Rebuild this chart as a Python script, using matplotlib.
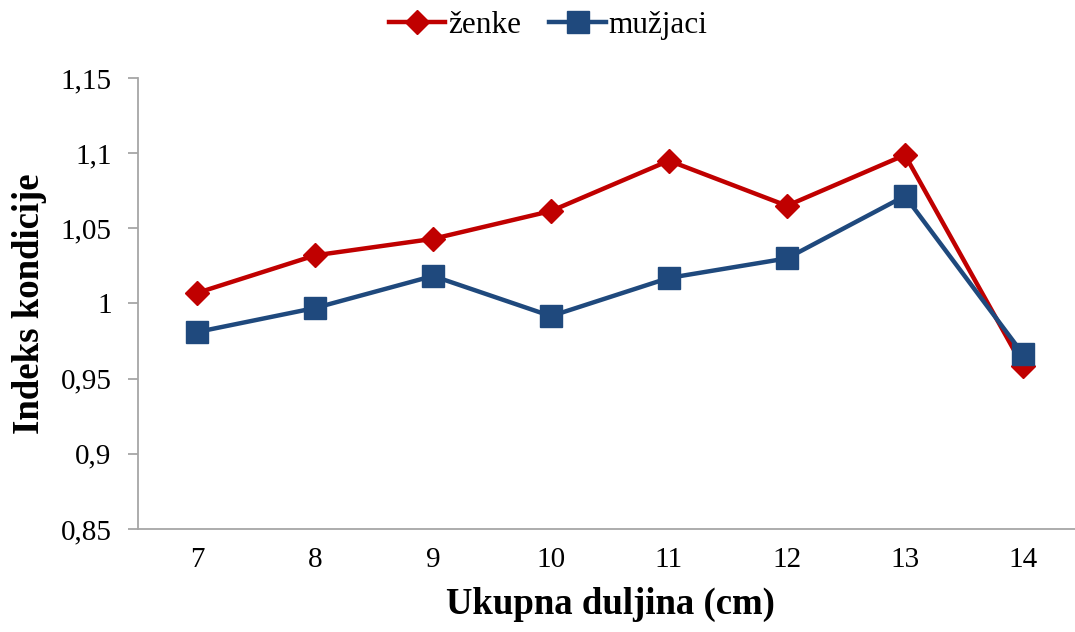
import matplotlib
matplotlib.use("Agg")
import matplotlib.pyplot as plt
from matplotlib.ticker import FixedLocator

categories = ["7", "8", "9", "10", "11", "12", "13", "14"]
zenke = [1.007, 1.032, 1.043, 1.0615, 1.095, 1.065, 1.0988, 0.9584]
muzjaci = [0.981, 0.997, 1.0183, 0.9916, 1.017, 1.030, 1.0715, 0.9664]
yticks = [0.85, 0.9, 0.95, 1.0, 1.05, 1.1, 1.15]
ytick_labels = ["0,85", "0,9", "0,95", "1", "1,05", "1,1", "1,15"]

plt.rcParams['font.family'] = ['Liberation Serif', 'DejaVu Serif']

fig = plt.figure(figsize=(10.75, 6.32), dpi=100)
ax = fig.add_axes([0.1284, 0.163, 0.878, 0.7136])

x = list(range(len(categories)))
ax.plot(x, zenke, color="#C00000", lw=3.2, marker="D", ms=12, label="ženke", zorder=3)
ax.plot(x, muzjaci, color="#1F497D", lw=3.2, marker="s", ms=15.5, label="mužjaci", zorder=4)

ax.set_xlim(-0.5, len(categories) - 0.5)
ax.set_ylim(0.85, 1.15)
ax.set_xticks(x)
ax.set_xticklabels(categories)
ax.yaxis.set_major_locator(FixedLocator(yticks))
ax.set_yticklabels(ytick_labels)

for s in ["top", "right"]:
    ax.spines[s].set_visible(False)
for s in ["left", "bottom"]:
    ax.spines[s].set_color("#A6A6A6")
    ax.spines[s].set_linewidth(1.3)

ax.tick_params(axis="x", length=0, pad=13, labelsize=21)
ax.tick_params(axis="y", length=7, width=1.3, color="#A6A6A6", direction="out", pad=12, labelsize=21)

ax.set_xlabel("Ukupna duljina (cm)", fontsize=26.5, fontweight="bold", labelpad=10)
ax.set_ylabel("Indeks kondicije", fontsize=26.5, fontweight="bold", labelpad=10)

fig.legend(loc="upper center", bbox_to_anchor=(0.51, 1.027), ncol=2, frameon=False,
           fontsize=22.5, handlelength=1.8, handletextpad=0.1, columnspacing=0.9)

fig.savefig("out.png", dpi=100)
